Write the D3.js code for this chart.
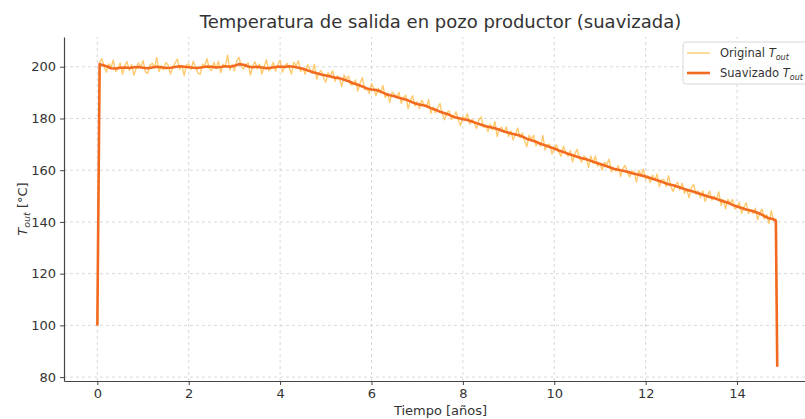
<!DOCTYPE html>
<html>
<head>
<meta charset="utf-8">
<script src="https://cdn.jsdelivr.net/npm/d3@7"></script>
<style>
    body { margin: 0; background: #fff; }
    svg { display: block; font-family: "DejaVu Sans", sans-serif; }
</style>
</head>
<body>
<div id="chart"></div>
<script>

// DATA
const xTicks = [0, 2, 4, 6, 8, 10, 12, 14];
const yTicks = [80, 100, 120, 140, 160, 180, 200];

// tiempos de muestreo [años]: original cada 0.05, suavizado cada 0.1 (con los extremos del ensayo)
const tiempoOriginal = [0, ...d3.range(1, 298).map(k => k / 20), 14.88];
const tiempoSuavizado = [0, 0.05, ...d3.range(2, 149).map(k => k / 10), 14.85, 14.88];

const tOutOriginal = [
    100.0,
    201.8, 203.1, 200.0, 197.9, 201.2, 199.7, 202.6, 198.2, 199.1, 201.5,
    197.1, 200.4, 202.0, 198.6, 200.9, 196.7, 199.4, 201.5, 200.0, 202.4,
    198.1, 197.4, 200.5, 201.4, 199.6, 203.6, 198.1, 200.3, 198.8, 201.7,
    200.6, 197.2, 199.6, 201.4, 203.0, 199.0, 200.5, 196.6, 200.7, 201.1,
    199.0, 202.1, 199.7, 197.6, 197.0, 200.9, 200.6, 203.1, 199.3, 198.5,
    201.7, 199.3, 202.1, 197.7, 201.0, 200.1, 204.5, 198.7, 200.9, 198.4,
    202.3, 203.6, 200.3, 199.1, 200.8, 201.5, 196.8, 200.3, 201.9, 199.1,
    201.0, 197.2, 199.8, 202.7, 198.5, 199.3, 201.7, 198.3, 200.8, 202.5,
    197.9, 200.3, 201.3, 199.5, 197.2, 201.7, 200.4, 202.3, 198.2, 199.3,
    197.1, 200.8, 199.2, 197.5, 200.9, 195.2, 197.6, 198.5, 195.8, 194.0,
    197.7, 196.4, 198.5, 194.4, 196.4, 195.4, 192.3, 196.8, 195.2, 196.4,
    192.9, 193.2, 194.9, 190.6, 193.6, 195.8, 191.2, 191.7, 189.7, 193.5,
    191.5, 188.8, 191.7, 189.8, 192.8, 188.1, 189.6, 186.2, 190.2, 189.4,
    188.0, 190.1, 185.9, 188.1, 189.0, 183.7, 186.8, 188.8, 184.9, 186.5,
    183.8, 187.1, 185.5, 184.4, 187.3, 182.0, 184.4, 182.2, 184.1, 185.8,
    181.6, 179.5, 182.3, 182.9, 179.6, 180.8, 182.6, 179.3, 177.3, 180.7,
    179.9, 181.8, 177.8, 179.6, 178.3, 176.1, 179.6, 180.6, 176.7, 177.4,
    174.9, 177.8, 175.6, 178.8, 173.0, 176.1, 176.6, 174.6, 176.7, 173.0,
    175.2, 171.7, 173.9, 176.3, 172.6, 174.4, 171.5, 169.1, 173.5, 172.2,
    173.5, 169.4, 170.9, 169.3, 173.4, 167.8, 170.0, 170.0, 166.3, 168.6,
    169.8, 167.1, 165.4, 169.3, 167.1, 165.4, 167.6, 163.2, 166.3, 168.1,
    164.6, 163.2, 165.5, 164.7, 161.1, 165.5, 162.7, 165.5, 161.5, 162.7,
    160.1, 163.1, 162.2, 164.3, 159.4, 160.8, 159.6, 161.8, 157.5, 160.7,
    161.8, 159.0, 157.4, 159.8, 159.2, 155.4, 160.0, 158.1, 160.4, 156.5,
    157.8, 155.2, 158.1, 156.1, 158.5, 153.6, 156.3, 156.3, 153.6, 157.9,
    153.7, 151.8, 154.3, 155.3, 152.4, 155.0, 151.1, 152.7, 149.3, 153.2,
    154.5, 150.8, 152.0, 149.3, 152.1, 147.9, 150.1, 151.9, 148.4, 149.9,
    148.7, 151.6, 146.4, 148.6, 145.1, 148.8, 147.1, 148.7, 145.1, 145.5,
    147.6, 143.3, 145.9, 147.4, 143.2, 144.7, 143.3, 145.3, 140.8, 143.6,
    144.9, 141.1, 142.8, 139.4, 144.4, 140.4, 141.2,
    84.0
];

const tOutSuavizado = [
    100.0, 201.0, 200.2, 199.4, 199.3, 199.6, 199.7, 199.5, 199.8, 199.9,
    199.6, 199.4, 199.7, 200.0, 199.8, 199.5, 199.6, 199.9, 200.2, 200.0,
    199.8, 199.6, 199.5, 199.8, 200.1, 200.0, 199.7, 199.9, 200.2, 200.0,
    200.4, 201.0, 200.8, 200.1, 199.8, 200.0, 199.7, 199.4, 199.6, 199.9,
    200.1, 199.9, 200.2, 200.0, 199.6, 199.2, 198.6, 198.0, 197.5, 197.0,
    196.6, 196.2, 195.8, 195.6, 195.0, 194.4, 193.6, 193.0, 192.4, 191.6,
    191.2, 191.0, 190.4, 189.6, 189.0, 188.6, 188.0, 187.5, 187.0, 186.2,
    185.6, 185.2, 184.8, 184.0, 183.4, 182.6, 182.0, 181.4, 180.6, 180.2,
    179.7, 179.4, 178.8, 178.2, 177.6, 177.0, 176.6, 176.2, 175.6, 175.0,
    174.5, 174.0, 173.6, 173.0, 172.2, 171.6, 171.0, 170.2, 169.6, 169.0,
    168.4, 167.6, 167.0, 166.4, 165.8, 165.2, 164.6, 164.2, 163.6, 163.0,
    162.4, 161.8, 161.2, 160.6, 160.2, 159.8, 159.4, 158.8, 158.4, 158.0,
    157.6, 157.0, 156.4, 155.8, 155.2, 154.6, 154.2, 153.6, 153.0, 152.4,
    152.0, 151.4, 150.8, 150.2, 149.6, 149.2, 148.6, 148.0, 147.4, 146.6,
    146.0, 145.4, 144.8, 144.4, 143.8, 143.2, 142.2, 141.4, 141.0, 140.4,
    84.0
];

const series = [
    { nombre: 'Original', tiempo: tiempoOriginal, valores: tOutOriginal, color: '#ffbd4a', ancho: 1.4, opacidad: 0.8 },
    { nombre: 'Suavizado', tiempo: tiempoSuavizado, valores: tOutSuavizado, color: '#f26a1f', ancho: 2.6, opacidad: 1 }
];

// DIMENSION
const width = 805, height = 419;
const margin = { top: 37, right: -12, bottom: 38, left: 64 };

const svg = d3.select('#chart')
    .append('svg')
        .attr('width', width)
        .attr('height', height);

// SCALES
const xScale = d3.scaleLinear()
    .domain([-0.73, 15.75])
    .range([margin.left, width - margin.right]);

const yScale = d3.scaleLinear()
    .domain([78.5, 211.5])
    .range([height - margin.bottom, margin.top]);

// GRID
const gridG = svg.append('g').attr('class', 'grid');

gridG.selectAll('.vgrid')
    .data(xTicks.concat([16]))
    .join('line')
        .attr('x1', d => xScale(d)).attr('x2', d => xScale(d))
        .attr('y1', yScale.range()[0]).attr('y2', yScale.range()[1])
        .attr('stroke', '#cfcfcf')
        .attr('stroke-width', 0.8)
        .attr('stroke-dasharray', '3,3');

gridG.selectAll('.hgrid')
    .data(yTicks)
    .join('line')
        .attr('x1', xScale.range()[0]).attr('x2', xScale.range()[1])
        .attr('y1', d => yScale(d)).attr('y2', d => yScale(d))
        .attr('stroke', '#cfcfcf')
        .attr('stroke-width', 0.8)
        .attr('stroke-dasharray', '3,3');

// LINES
svg.append('g')
    .selectAll('path')
    .data(series)
    .join('path')
        .attr('fill', 'none')
        .attr('stroke', d => d.color)
        .attr('stroke-width', d => d.ancho)
        .attr('stroke-opacity', d => d.opacidad)
        .attr('stroke-linejoin', 'round')
        .attr('d', d => d3.line()
            .x((v, i) => xScale(d.tiempo[i]))
            .y(v => yScale(v))(d.valores));

// X AXIS
const xAxisG = svg.append('g')
    .attr('transform', `translate(0, ${height - margin.bottom})`)
    .call(d3.axisBottom(xScale)
        .tickValues(xTicks)
        .tickSize(4)
        .tickPadding(4)
        .tickSizeOuter(0));

// Y AXIS
const yAxisG = svg.append('g')
    .attr('transform', `translate(${margin.left}, 0)`)
    .call(d3.axisLeft(yScale)
        .tickValues(yTicks)
        .tickSize(4)
        .tickPadding(4)
        .tickSizeOuter(0));

[xAxisG, yAxisG].forEach(g => {
    g.select('.domain').attr('stroke', '#444').attr('stroke-width', 1.2);
    g.selectAll('.tick line').attr('stroke', '#444');
    g.selectAll('.tick text')
        .attr('fill', '#333')
        .attr('font-size', 13)
        .attr('font-family', '"DejaVu Sans", sans-serif');
});

// TITLE
svg.append('text')
    .attr('x', (xScale.range()[0] + xScale.range()[1]) / 2)
    .attr('y', 28)
    .attr('text-anchor', 'middle')
    .attr('fill', '#333')
    .attr('font-size', 18)
    .text('Temperatura de salida en pozo productor (suavizada)');

// AXIS LABELS
svg.append('text')
    .attr('x', (xScale.range()[0] + xScale.range()[1]) / 2)
    .attr('y', 415)
    .attr('text-anchor', 'middle')
    .attr('fill', '#333')
    .attr('font-size', 13)
    .text('Tiempo [años]');

const yLabel = svg.append('text')
    .attr('transform', `translate(27, ${(yScale.range()[0] + yScale.range()[1]) / 2}) rotate(-90)`)
    .attr('text-anchor', 'middle')
    .attr('fill', '#333')
    .attr('font-size', 13);
yLabel.append('tspan').attr('font-style', 'italic').text('T');
yLabel.append('tspan').attr('font-style', 'italic').attr('font-size', 9.5).attr('dy', 3).text('out');
yLabel.append('tspan').attr('dy', -3).text(' [°C]');

// LEGEND
const legendG = svg.append('g').attr('transform', 'translate(683, 42)');

legendG.append('rect')
    .attr('width', 140).attr('height', 42)
    .attr('rx', 3)
    .attr('fill', '#fff')
    .attr('fill-opacity', 0.85)
    .attr('stroke', '#d6d6d6');

const item = legendG.selectAll('.item')
    .data(series)
    .join('g')
        .attr('transform', (d, i) => `translate(0, ${11 + i * 20})`);

item.append('line')
    .attr('x1', 4).attr('x2', 27)
    .attr('stroke', d => d.color)
    .attr('stroke-opacity', d => d.opacidad)
    .attr('stroke-width', d => d.ancho);

const itemText = item.append('text')
    .attr('x', 37).attr('y', 4)
    .attr('fill', '#333')
    .attr('font-size', 11.5);
itemText.append('tspan').text(d => d.nombre + ' ');
itemText.append('tspan').attr('font-style', 'italic').text('T');
itemText.append('tspan').attr('font-style', 'italic').attr('font-size', 8).attr('dy', 2.5).text('out');

</script>
</body>
</html>
